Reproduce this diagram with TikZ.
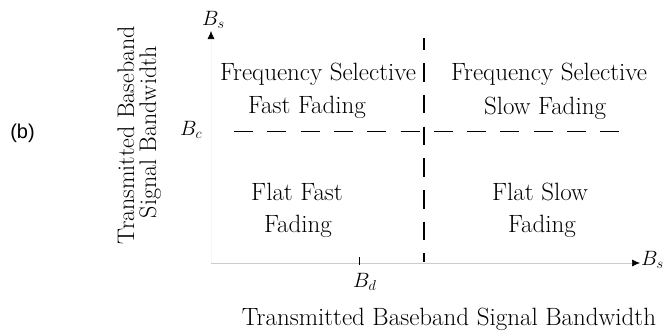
\documentclass[tikz,border=0pt]{standalone}
\usepackage{fontspec}
\newfontfamily\tagfont{Liberation Sans}
\usetikzlibrary{arrows.meta}

\tikzset{
  region/.style={inner sep=0pt, anchor=base, font=\fontsize{25}{28}\selectfont},
  sidetitle/.style={inner sep=0pt, anchor=base, rotate=90, font=\fontsize{24}{27}\selectfont},
  axislabel/.style={inner sep=0pt, anchor=base west, font=\fontsize{20.74}{24}\selectfont},
  axisline/.style={line width=0.6pt, -{Latex[length=8pt,width=7pt,color=black]}},
  boundary/.style={line width=1.1pt, black},
}

\begin{document}
\begin{tikzpicture}[x=1pt, y=-1pt]
  \useasboundingbox (0,0) rectangle (664,333);

  % axes
  \coordinate (origin) at (211,263);
  \coordinate (ytip) at (211,31);
  \coordinate (xtip) at (640,263);
  \draw[axisline, gray!6] (origin) -- (ytip);
  \draw[axisline, gray!40] (origin) -- (xtip);

  % axis labels
  \node[axislabel] (bsy) at (202,25) {$B_s$};
  \node[axislabel] (bsx) at (641,265) {$B_s$};
  \node[axislabel] (bc) at (180,135) {$B_c$};
  \node[axislabel] (bd) at (353,287) {$B_d$};

  % tick for B_d
  \coordinate (tickbot) at (359,265);
  \coordinate (ticktop) at (359,257);
  \draw[line width=0.9pt] (tickbot) -- (ticktop);

  % coherence bandwidth boundary
  \coordinate (hl) at (234,131.5);
  \coordinate (hr) at (620,131.5);
  \draw[boundary, dash pattern=on 19pt off 14.3pt] (hl) -- (hr);

  % Doppler / symbol period boundary
  \coordinate (vt) at (424,38);
  \coordinate (vb) at (424,262);
  \draw[boundary, dash pattern=on 18.5pt off 13.2pt, dash phase=6.5pt] (vt) -- (vb);

  % the four fading regions
  \node[region] (fs1) at (318,80.5) {Frequency Selective};
  \node[region] (fs2) at (307,113.5) {Fast Fading};
  \node[region] (ss1) at (549,80.5) {Frequency Selective};
  \node[region] (ss2) at (545,114) {Slow Fading};
  \node[region] (ff1) at (297,200) {Flat Fast};
  \node[region] (ff2) at (298,232) {Fading};
  \node[region] (fl1) at (540,200) {Flat Slow};
  \node[region] (fl2) at (542,232) {Fading};

  % axis titles
  \node[region] (xtitle) at (449,325) {Transmitted Baseband Signal Bandwidth};
  \node[sidetitle] (ytitle1) at (134,135) {Transmitted Baseband};
  \node[sidetitle] (ytitle2) at (156,132) {Signal Bandwidth};

  % panel tag
  \node[inner sep=0pt, font=\tagfont\fontsize{20}{24}\selectfont] (tag) at (22.5,133) {(b)};
\end{tikzpicture}
\end{document}
